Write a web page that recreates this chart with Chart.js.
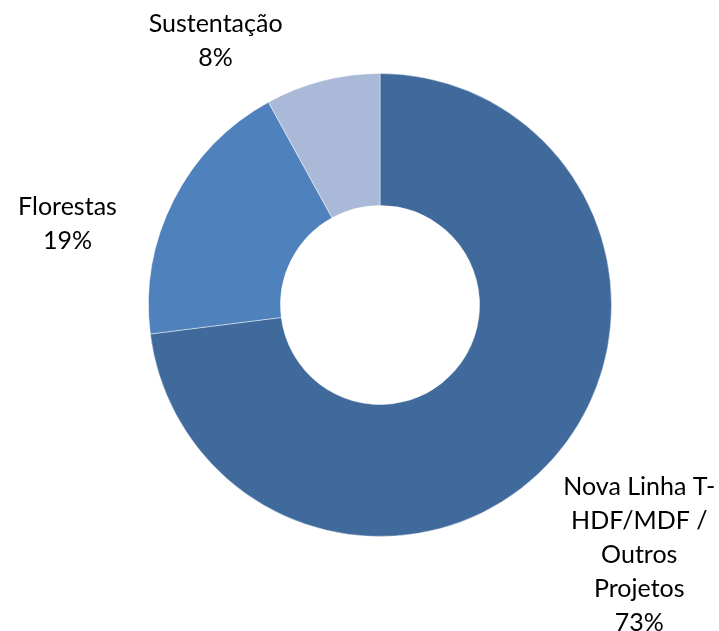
<!DOCTYPE html>
<html>
<head>
<meta charset="utf-8">
<script src="https://cdn.jsdelivr.net/npm/chart.js@4/dist/chart.umd.min.js"></script>
<style>
  html, body { margin: 0; padding: 0; background: #fff; }
  #wrap { width: 719px; height: 631px; }
</style>
</head>
<body>
<div id="wrap"><canvas id="grafico"></canvas></div>
<script>
// categorias e percentuais do gráfico de rosca
const categorias = [['Nova Linha T-', 'HDF/MDF /', 'Outros', 'Projetos'], ['Florestas'], ['Sustentação']]
const percentuais = [73, 19, 8]
const cores = ['#406A9B', '#4F81BD', '#AAB9D7']

// onde cada rótulo fica, em unidades do raio externo a partir do centro
const posRotulos = [[1.12, 1.08], [-1.35, -0.35], [-0.71, -1.14]]

const rotulosFatias = {
  id: 'rotulosFatias',
  afterDraw(chart) {
    const ctx = chart.ctx
    const arcos = chart.getDatasetMeta(0).data
    ctx.save()
    ctx.font = '25px Lato, "Liberation Sans", sans-serif'
    ctx.fillStyle = '#000'
    ctx.textAlign = 'center'
    ctx.textBaseline = 'middle'
    const alturaLinha = 34
    arcos.forEach((arco, i) => {
      const linhas = categorias[i].concat([percentuais[i] + '%'])
      const cx = arco.x + posRotulos[i][0] * arco.outerRadius
      const cy = arco.y + posRotulos[i][1] * arco.outerRadius
      const topo = cy - (linhas.length - 1) * alturaLinha / 2
      linhas.forEach((txt, j) => ctx.fillText(txt, cx, topo + j * alturaLinha))
    })
    ctx.restore()
  }
}

var grafico = document.getElementById('grafico').getContext('2d')
new Chart(grafico, {
  type: 'doughnut',
  data: {
    labels: categorias.map(c => c.join(' ')),
    datasets: [{
      data: percentuais,
      backgroundColor: cores,
      borderColor: 'rgba(255, 255, 255, 0.45)',
      borderWidth: 1
    }]
  },
  options: {
    responsive: true,
    maintainAspectRatio: false,
    animation: false,
    cutout: '43%',
    layout: { padding: { left: 148, right: 107, top: 73, bottom: 94 } },
    plugins: {
      legend: { display: false },
      tooltip: { enabled: false }
    }
  },
  plugins: [rotulosFatias]
})
</script>
</body>
</html>
